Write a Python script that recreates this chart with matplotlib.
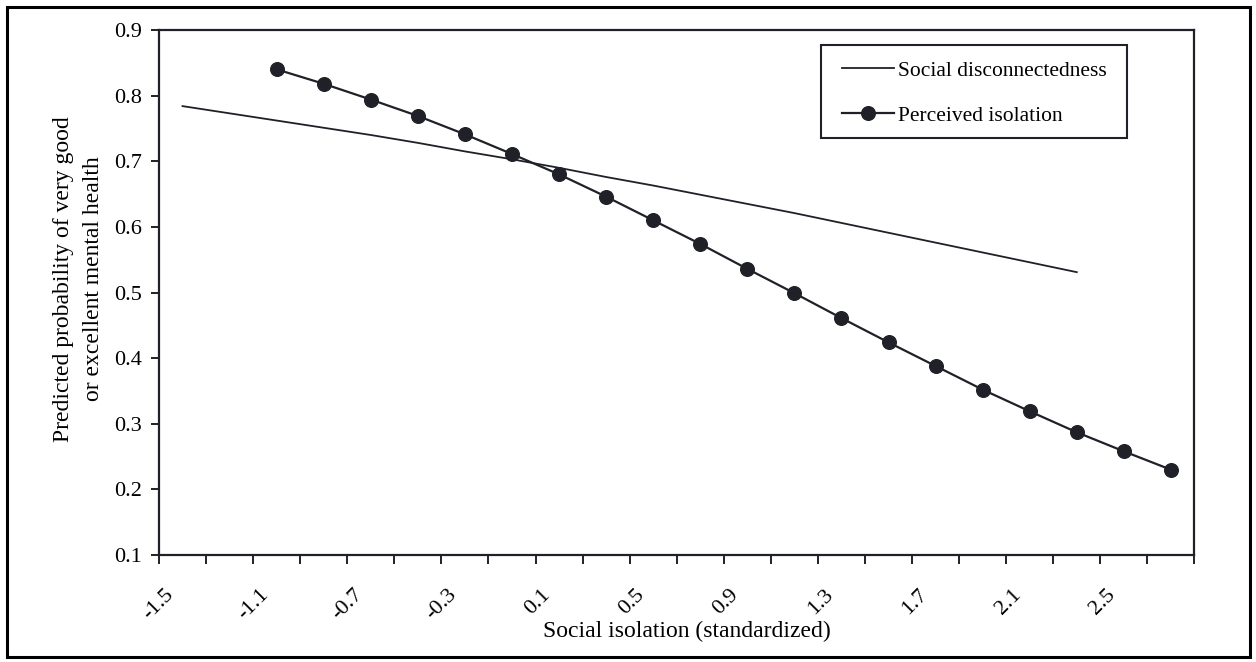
import numpy as np
import matplotlib.pyplot as plt
from matplotlib.patches import Rectangle
import matplotlib.transforms as mtransforms

plt.rcParams['font.family'] = ['Liberation Serif', 'DejaVu Serif']

# categories on the x axis (standardized social isolation)
categories = [-1.5, -1.3, -1.1, -0.9, -0.7, -0.5, -0.3, -0.1, 0.1, 0.3, 0.5,
              0.7, 0.9, 1.1, 1.3, 1.5, 1.7, 1.9, 2.1, 2.3, 2.5, 2.7]
tick_labels = ['-1.5', '-1.1', '-0.7', '-0.3', '0.1', '0.5', '0.9', '1.3',
               '1.7', '2.1', '2.5']

# social disconnectedness: -1.5 .. 2.3
disconnect_x = categories[:20]
disconnect_y = [0.784, 0.773, 0.762, 0.751, 0.740, 0.728, 0.715, 0.703, 0.690, 0.676,
                0.663, 0.649, 0.635, 0.621, 0.606, 0.591, 0.576, 0.561, 0.546, 0.531]

# perceived isolation: -1.1 .. 2.7
isolation_x = categories[2:]
isolation_y = [0.840, 0.818, 0.794, 0.769, 0.741, 0.711, 0.680, 0.646, 0.610, 0.574,
               0.536, 0.499, 0.461, 0.424, 0.388, 0.352, 0.319, 0.287, 0.258, 0.230]

ink = '#202128'

fig = plt.figure(figsize=(12.56, 6.62), dpi=100)
ax = fig.add_axes([0.1266, 0.1616, 0.8244, 0.7931])

ax.plot(disconnect_x, disconnect_y, color=ink, lw=1.3, label='Social disconnectedness')
ax.plot(isolation_x, isolation_y, color=ink, lw=1.6, marker='o', ms=9.8,
        label='Perceived isolation')

ax.set_xlim(-1.6, 2.8)
ax.set_ylim(0.1, 0.9)

# tick marks sit between categories, labels on every second category
ax.set_xticks(np.arange(-1.6, 2.81, 0.2), minor=True)
ax.set_xticks(categories[::2])
ax.set_xticklabels(tick_labels)
ax.tick_params(axis='x', which='minor', length=6.5, width=1.4, color=ink)
ax.tick_params(axis='x', which='major', length=0, pad=22, labelsize=16)
off = mtransforms.ScaledTranslation(-18 / 100, 0, fig.dpi_scale_trans)
for lbl in ax.get_xticklabels():
    lbl.set_rotation(45)
    lbl.set_ha('right')
    lbl.set_va('top')
    lbl.set_rotation_mode('anchor')
    lbl.set_transform(lbl.get_transform() + off)

ax.set_yticks(np.arange(0.1, 0.91, 0.1))
ax.set_yticklabels(['0.1', '0.2', '0.3', '0.4', '0.5', '0.6', '0.7', '0.8', '0.9'])
ax.tick_params(axis='y', length=6, width=1.4, color=ink, pad=6, labelsize=16)

for s in ax.spines.values():
    s.set_linewidth(1.6)
    s.set_color(ink)

ax.set_xlabel('Social isolation (standardized)', fontsize=17)
ax.xaxis.set_label_coords(0.51, -0.145)
ax.xaxis.label.set_va('center')

ax.set_ylabel('Predicted probability of very good\nor excellent mental health',
              fontsize=17, linespacing=1.55)
ax.yaxis.set_label_coords(-0.0777, 0.526)
ax.yaxis.label.set_va('center')

# legend without its own frame; the box is drawn separately
leg = ax.legend(loc='upper left', bbox_to_anchor=(0.6596, 0.942), fontsize=15.5,
                frameon=False, handlelength=2.4, handletextpad=0.2,
                labelspacing=1.18, borderpad=0, borderaxespad=0)
ax.add_patch(Rectangle((0.639, 0.794), 0.296, 0.177, transform=ax.transAxes,
                       fill=False, lw=1.5, ec=ink, zorder=5))

fig.add_artist(Rectangle((0.0056, 0.0076), 0.9894, 0.9814, transform=fig.transFigure,
                         fill=False, lw=2.2, ec='black'))

fig.savefig('out.png', dpi=100)
